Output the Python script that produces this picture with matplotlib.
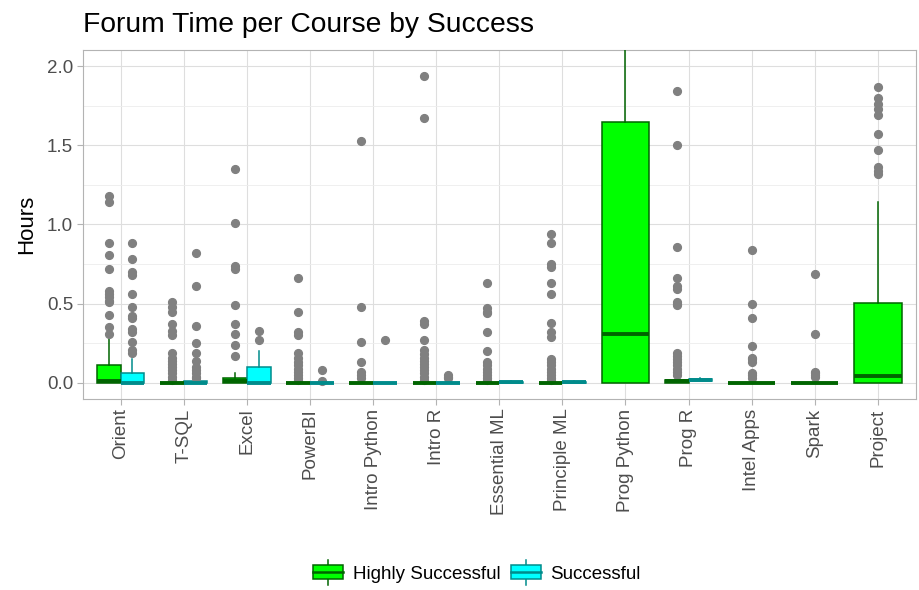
import matplotlib.pyplot as plt
from matplotlib.legend_handler import HandlerBase
from matplotlib.patches import Rectangle, Patch
from matplotlib.lines import Line2D

plt.rcParams['font.family'] = ['Liberation Sans', 'DejaVu Sans']

courses = ["Orient", "T-SQL", "Excel", "PowerBI", "Intro Python", "Intro R",
           "Essential ML", "Principle ML", "Prog Python", "Prog R",
           "Intel Apps", "Spark", "Project"]

# Highly Successful: box stats per course
hs_q1 = [0.0, 0.0, 0.0, 0.0, 0.0, 0.0, 0.0, 0.0, 0.0, 0.0, 0.0, 0.0, 0.0]
hs_med = [0.015, 0.0, 0.01, 0.0, 0.0, 0.0, 0.0, 0.0, 0.307, 0.01, 0.0, 0.0, 0.046]
hs_q3 = [0.114, 0.0, 0.03, 0.0, 0.0, 0.0, 0.0, 0.0, 1.647, 0.02, 0.0, 0.0, 0.507]
hs_hi = [0.28, 0.0, 0.06, 0.0, 0.0, 0.0, 0.0, 0.0, 2.4, 0.035, 0.0, 0.0, 1.14]
hs_out = [
    [1.18, 1.14, 0.88, 0.81, 0.72, 0.58, 0.56, 0.54, 0.52, 0.51, 0.43, 0.35, 0.31],
    [0.51, 0.48, 0.45, 0.37, 0.33, 0.30, 0.19, 0.16, 0.14, 0.12, 0.10, 0.08, 0.06, 0.04, 0.02],
    [1.35, 1.01, 0.74, 0.72, 0.49, 0.37, 0.31, 0.24, 0.17],
    [0.66, 0.45, 0.32, 0.30, 0.19, 0.16, 0.13, 0.11, 0.09, 0.07, 0.05, 0.03, 0.02],
    [1.53, 0.48, 0.26, 0.13, 0.07, 0.05, 0.03],
    [1.94, 1.67, 0.39, 0.37, 0.27, 0.21, 0.18, 0.16, 0.14, 0.12, 0.10, 0.08, 0.06, 0.04, 0.02],
    [0.63, 0.47, 0.45, 0.44, 0.32, 0.20, 0.13, 0.11, 0.09, 0.07, 0.05, 0.03, 0.02],
    [0.94, 0.88, 0.75, 0.73, 0.63, 0.56, 0.38, 0.32, 0.29, 0.15, 0.13, 0.11, 0.09, 0.07, 0.05, 0.03, 0.02],
    [],
    [1.84, 1.50, 0.86, 0.66, 0.61, 0.59, 0.51, 0.50, 0.49, 0.19, 0.17, 0.15, 0.13, 0.11, 0.09, 0.07, 0.05],
    [0.84, 0.50, 0.41, 0.23, 0.16, 0.15, 0.13, 0.06, 0.05, 0.03],
    [0.69, 0.31, 0.07, 0.06, 0.05, 0.04],
    [1.87, 1.80, 1.76, 1.73, 1.69, 1.57, 1.47, 1.36, 1.34, 1.32],
]

# Successful: box stats per course (None = no data)
s_q1 = [0.0, 0.0, 0.0, 0.0, 0.0, 0.0, 0.0, 0.0, None, 0.01, None, None, None]
s_med = [0.0, 0.0, 0.0, 0.0, 0.0, 0.0, 0.005, 0.005, None, 0.017, None, None, None]
s_q3 = [0.063, 0.01, 0.10, 0.0, 0.0, 0.0, 0.008, 0.008, None, 0.025, None, None, None]
s_hi = [0.15, 0.02, 0.20, 0.0, 0.0, 0.0, 0.01, 0.01, None, 0.03, None, None, None]
s_out = [
    [0.88, 0.78, 0.70, 0.68, 0.56, 0.48, 0.42, 0.41, 0.34, 0.32, 0.26, 0.21, 0.19],
    [0.82, 0.61, 0.36, 0.25, 0.19, 0.14, 0.10, 0.08, 0.06, 0.04, 0.03],
    [0.33, 0.27],
    [0.08, 0.01],
    [0.27],
    [0.05, 0.04, 0.03],
    [], [], [], [], [], [], [],
]

hs_fill, hs_edge = "#00FF00", "#006400"
s_fill, s_edge = "#00FFFF", "#008B8B"

fig = plt.figure(figsize=(9.2, 5.9), dpi=100)
ax = fig.add_axes([0.09, 0.3242, 0.9054, 0.5907])


def draw(stats, pos, width, fill, edge):
    ax.bxp(stats, positions=pos, widths=width, patch_artist=True,
           showcaps=False, zorder=3,
           boxprops=dict(facecolor=fill, edgecolor=edge, linewidth=1.1),
           medianprops=dict(color=edge, linewidth=2.8, solid_capstyle='butt'),
           whiskerprops=dict(color=edge, linewidth=1.1),
           flierprops=dict(marker='o', markerfacecolor='#808080',
                           markeredgecolor='#808080', markersize=5.6))


for i, c in enumerate(courses):
    hs = dict(q1=hs_q1[i], med=hs_med[i], q3=hs_q3[i], whislo=hs_q1[i],
              whishi=hs_hi[i], fliers=hs_out[i])
    if s_q1[i] is None:
        draw([hs], [i], 0.75, hs_fill, hs_edge)
    else:
        s = dict(q1=s_q1[i], med=s_med[i], q3=s_q3[i], whislo=s_q1[i],
                 whishi=s_hi[i], fliers=s_out[i])
        draw([hs], [i - 0.1875], 0.375, hs_fill, hs_edge)
        draw([s], [i + 0.1875], 0.375, s_fill, s_edge)

ax.set_xlim(-0.6, len(courses) - 0.4)
ax.set_ylim(-0.1, 2.1)
ax.set_xticks(range(len(courses)))
ax.set_xticklabels(courses, rotation=90, ha='center', va='top')
ax.set_yticks([0, 0.5, 1.0, 1.5, 2.0])
ax.set_yticklabels(["0.0", "0.5", "1.0", "1.5", "2.0"])
ax.set_yticks([0.25, 0.75, 1.25, 1.75], minor=True)
ax.tick_params(axis='both', which='major', colors='#B3B3B3', labelcolor='#4D4D4D',
               labelsize=13.5, length=4, width=0.8, pad=3)
ax.tick_params(axis='y', which='minor', length=0)
ax.grid(True, which='major', color='#DEDEDE', linewidth=0.8, zorder=0)
ax.grid(True, which='minor', axis='y', color='#EDEDED', linewidth=0.6, zorder=0)
ax.set_axisbelow(True)
for sp in ax.spines.values():
    sp.set_color('#B3B3B3')
    sp.set_linewidth(0.8)
ax.set_ylabel("Hours", fontsize=16, color='black', labelpad=7)

fig.text(83 / 920, 1 - 32 / 590, "Forum Time per Course by Success",
         fontsize=20.3, color='black', ha='left', va='baseline')


class BoxHandler(HandlerBase):
    def create_artists(self, legend, orig_handle, xdescent, ydescent,
                       width, height, fontsize, trans):
        fc = orig_handle.get_facecolor()
        ec = orig_handle.get_edgecolor()
        x0, y0 = -xdescent, -ydescent
        cx = x0 + width / 2
        b0, b1 = y0 + height * 0.12, y0 + height * 0.88
        rect = Rectangle((x0, b0), width, b1 - b0, facecolor=fc, edgecolor=ec,
                         linewidth=1.1, transform=trans)
        med = Line2D([x0, x0 + width], [y0 + height / 2] * 2, color=ec,
                     linewidth=1.8, transform=trans)
        w1 = Line2D([cx, cx], [b1, y0 + height * 1.2], color=ec,
                    linewidth=1.1, transform=trans)
        w2 = Line2D([cx, cx], [b0, y0 - height * 0.2], color=ec,
                    linewidth=1.1, transform=trans)
        return [w1, w2, rect, med]


handles = [Patch(facecolor=hs_fill, edgecolor=hs_edge),
           Patch(facecolor=s_fill, edgecolor=s_edge)]
fig.legend(handles, ["Highly Successful", "Successful"],
           handler_map={Patch: BoxHandler()}, loc='center',
           bbox_to_anchor=(477 / 920, 1 - 573 / 590), ncol=2, frameon=False,
           fontsize=13.5, handlelength=1.6, handleheight=1.1,
           handletextpad=0.5, columnspacing=0.55)

fig.savefig("out.png", dpi=100)
